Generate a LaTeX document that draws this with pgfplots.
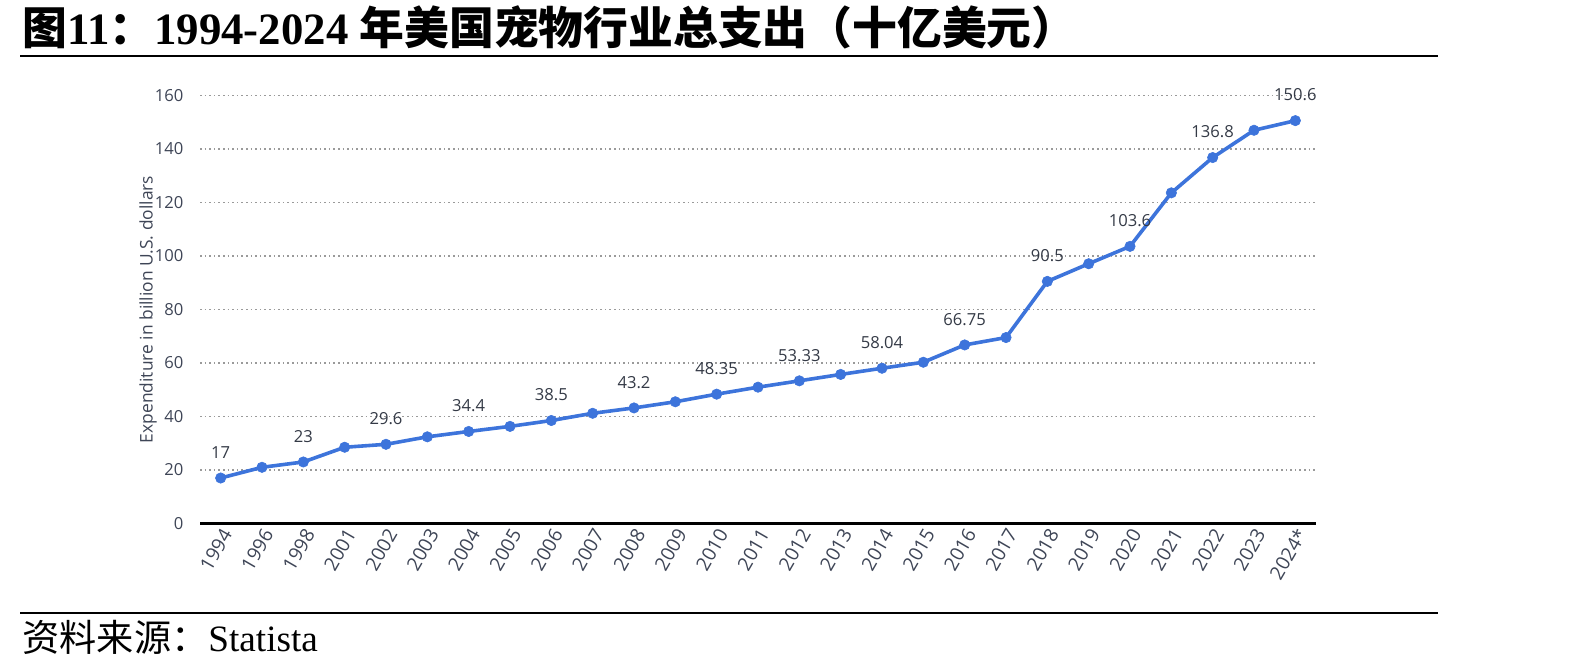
\documentclass[border=0pt]{standalone}
\usepackage{fontspec}
\usepackage{pgfplots}
\pgfplotsset{compat=1.18}
\setmainfont{Liberation Serif}
\newfontfamily\cjk{Noto Sans CJK SC}
\newfontfamily\chartfont{Open Sans}
\definecolor{lineblue}{HTML}{3D74DB}
\definecolor{labelgray}{HTML}{343A46}
\definecolor{axisgray}{HTML}{3E4556}
\definecolor{gridgray}{HTML}{9A9A9A}

\begin{document}
\begin{tikzpicture}[x=1pt,y=1pt]
\useasboundingbox (0,0) rectangle (797,336);
% heading and rules
\node[anchor=base west, inner sep=0] at (11,313.5)
  {\fontsize{22.4}{27}\selectfont\bfseries{\cjk 图}11{\cjk ：}1994-2024 {\cjk 年美国宠物行业总支出（十亿美元）}};
\draw[line width=1.2pt] (10,308) -- (719,308);
\draw[line width=1.2pt] (10,29.5) -- (719,29.5);
\node[anchor=base west, inner sep=0] at (11,10.2)
  {\fontsize{18.6}{22}\selectfont{\cjk 资料来源：}Statista};

\begin{axis}[
  at={(100pt,74.25pt)}, anchor=south west,
  scale only axis, width=558pt, height=214pt,
  xmin=-0.5, xmax=26.5, ymin=0, ymax=160,
  clip=false,
  axis line style={draw=none},
  tick style={draw=none},
  major tick length=0pt,
  ytick={20,40,...,160},
  extra y ticks={0},
  extra y tick style={grid style={solid, black, line width=1.6pt}},
  ymajorgrids,
  grid style={gridgray, line width=0.8pt, dash pattern=on 0.8pt off 1.5pt},
  xtick={0,...,26},
  xticklabels={1994,1996,1998,2001,2002,2003,2004,2005,2006,2007,2008,2009,2010,2011,2012,2013,2014,2015,2016,2017,2018,2019,2020,2021,2022,2023,2024*},
  /pgf/number format/assume math mode=true,
  yticklabel style={font=\chartfont\fontsize{8.3}{10}\selectfont, text=axisgray, xshift=-4.8pt},
  xticklabel style={font=\chartfont\fontsize{9.6}{11}\selectfont, text=axisgray,
    rotate=60, anchor=east, xshift=2pt, yshift=-4.5pt},
  ylabel={Expenditure in billion U.S. dollars},
  every axis y label/.style={at={(axis description cs:-0.0466,0.5)}, rotate=90, anchor=center,
    font=\chartfont\fontsize{8.7}{10}\selectfont, text=axisgray},
]
\addplot[lineblue, line width=1.8pt, mark=*, mark size=2.6pt,
  mark options={solid, fill=lineblue, draw=lineblue, line width=0.3pt}]
  table[x=i, y=v] {
i  v
0  17
1  21
2  23
3  28.5
4  29.6
5  32.4
6  34.4
7  36.3
8  38.5
9  41.2
10 43.2
11 45.5
12 48.35
13 50.96
14 53.33
15 55.72
16 58.04
17 60.28
18 66.75
19 69.51
20 90.5
21 97.1
22 103.6
23 123.6
24 136.8
25 147
26 150.6
};
% value labels on every other year
\addplot[draw=none, mark=none, nodes near coords, point meta=explicit symbolic,
  every node near coord/.append style={font=\chartfont\fontsize{8.3}{10}\selectfont,
    text=labelgray, anchor=south, yshift=6.2pt}]
  coordinates {
  (0,17) [17] (2,23) [23] (4,29.6) [29.6] (6,34.4) [34.4] (8,38.5) [38.5]
  (10,43.2) [43.2] (12,48.35) [48.35] (14,53.33) [53.33] (16,58.04) [58.04]
  (18,66.75) [66.75] (20,90.5) [90.5] (22,103.6) [103.6] (24,136.8) [136.8]
  (26,150.6) [150.6]
  };
\end{axis}
\end{tikzpicture}
\end{document}
